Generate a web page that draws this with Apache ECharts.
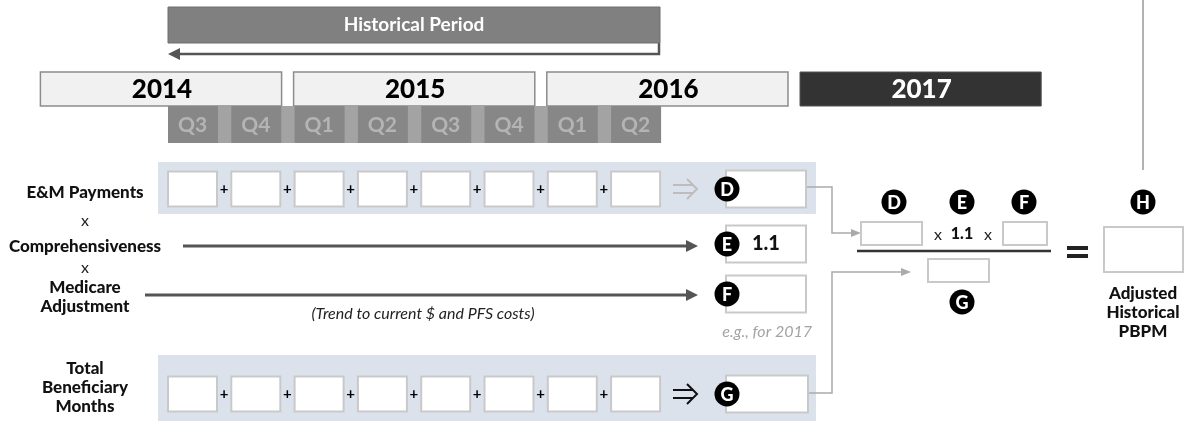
<!DOCTYPE html>
<html>
<head>
<meta charset="utf-8">
<style>
  html, body { margin: 0; padding: 0; background: #fff; }
  #chart { width: 1187px; height: 421px; }
</style>
<script src="https://cdn.jsdelivr.net/npm/echarts@6/dist/echarts.min.js"></script>
</head>
<body>
<div id="chart"></div>
<script>
// timeline
const periodLabel = 'Historical Period';
const years = ['2014', '2015', '2016', '2017'];
const quarters = ['Q3', 'Q4', 'Q1', 'Q2', 'Q3', 'Q4', 'Q1', 'Q2'];

// rows of the calculation
const rowLabels = ['E&M Payments', 'Comprehensiveness', 'Medicare\nAdjustment', 'Total\nBeneficiary\nMonths'];
const rowLetters = ['D', 'E', 'F', 'G'];
const rowValues = ['', '1.1', '', ''];
const sumRows = [0, 3]; // rows that add up the quarters
const factorRows = [1, 2]; // rows that are a single factor
const trendNote = '(Trend to current $ and PFS costs)';
const exampleNote = 'e.g., for 2017';

// formula
const numeratorLetters = ['D', 'E', 'F'];
const comprehensiveness = '1.1';
const denominatorLetter = 'G';
const resultLetter = 'H';
const resultLabel = 'Adjusted\nHistorical\nPBPM';

// layout (pixels of the hidden axes)
const L = {
  q0: 168, qStep: 63.3, qW: 49,
  periodTop: 7, periodBottom: 43, periodLine: 54, periodRight: 660,
  yearTop: 72, yearBottom: 106,
  qTop: 106, qBottom: 143,
  labelX: 85, labelY: [193, 247, 297, 388],
  rowY: [189, 244, 294, 394],
  band: [158, 816], bandY: { 0: [162, 214], 3: [355, 421] },
  boxH: 35,
  arrowStart: { 1: 183, 2: 145 },
  resX: [726, 806], resH: 37, circleX: 727, r: 12.5,
};
const FONT = 'Lato';
const BOX = { fill: '#fff', stroke: '#c9c9c9', lineWidth: 2 };

const qx = q => L.q0 + q * L.qStep;

function rect(api, x0, y0, x1, y1, style) {
  const a = api.coord([x0, y0]);
  const b = api.coord([x1, y1]);
  return { type: 'rect', shape: { x: a[0], y: a[1], width: b[0] - a[0], height: b[1] - a[1] }, style };
}
function text(api, x, y, str, font, fill, align, extra) {
  const p = api.coord([x, y]);
  return {
    type: 'text', x: p[0], y: p[1],
    style: Object.assign({ text: str, font, fill, align: align || 'center', verticalAlign: 'middle' }, extra || {}),
  };
}
function line(api, pts, stroke, lineWidth) {
  return { type: 'polyline', shape: { points: pts.map(p => api.coord(p)) }, style: { stroke, lineWidth, fill: null } };
}
function tri(api, pts, fill) {
  return { type: 'polygon', shape: { points: pts.map(p => api.coord(p)) }, style: { fill } };
}
function badge(api, x, y, letter) {
  const p = api.coord([x, y]);
  return {
    type: 'group', children: [
      { type: 'circle', shape: { cx: p[0], cy: p[1], r: L.r }, style: { fill: '#000' } },
      { type: 'text', x: p[0], y: p[1] + 1, style: { text: letter, font: `900 18px ${FONT}`, fill: '#fff', align: 'center', verticalAlign: 'middle' } },
    ],
  };
}
function dblArrow(api, x, y, color) {
  return {
    type: 'group', children: [
      line(api, [[x, y - 4], [x + 20, y - 4]], color, 2),
      line(api, [[x, y + 4], [x + 20, y + 4]], color, 2),
      line(api, [[x + 14, y - 10], [x + 24, y], [x + 14, y + 10]], color, 2),
    ],
  };
}

function custom(name, data, renderItem) {
  return { type: 'custom', name, data, renderItem, silent: true, animation: false, clip: false };
}

const series = [
  // historical period banner
  custom('period', [[0, 0]], (params, api) => ({
    type: 'group', children: [
      line(api, [[L.periodRight - 1, L.periodBottom], [L.periodRight - 1, L.periodLine], [L.q0 + 10, L.periodLine]], '#555', 2.5),
      tri(api, [[L.q0, L.periodLine], [L.q0 + 12, L.periodLine - 6], [L.q0 + 12, L.periodLine + 6]], '#555'),
      rect(api, L.q0, L.periodTop, L.periodRight, L.periodBottom, { fill: '#808080', stroke: '#6e6e6e', lineWidth: 1 }),
      text(api, (L.q0 + L.periodRight) / 2, (L.periodTop + L.periodBottom) / 2, periodLabel, `bold 19px ${FONT}`, '#fff'),
    ],
  })),
  // year bars
  custom('years', years.map((y, i) => [i, 0]), (params, api) => {
    const i = params.dataIndex;
    const x0 = qx(4 * i - 2) - 1;
    const x1 = qx(4 * i + 2) - 13;
    const last = i === years.length - 1;
    return {
      type: 'group', children: [
        rect(api, x0, L.yearTop, x1, L.yearBottom, last
          ? { fill: '#333', stroke: '#555', lineWidth: 1 }
          : { fill: '#f1f1f1', stroke: '#8c8c8c', lineWidth: 1.5 }),
        text(api, (x0 + x1) / 2 + 1, (L.yearTop + L.yearBottom) / 2 + 1, years[i], `900 26px ${FONT}`, last ? '#fff' : '#000'),
      ],
    };
  }),
  // quarter strip
  custom('quarterStrip', [[0, 0]], (params, api) =>
    rect(api, L.q0, L.qTop, L.periodRight, L.qBottom, { fill: '#a3a3a3' })),
  custom('quarters', quarters.map((q, i) => [i, 0]), (params, api) => {
    const i = params.dataIndex;
    const x0 = qx(i);
    return {
      type: 'group', children: [
        rect(api, x0, L.qTop, x0 + L.qW + 1, L.qBottom, { fill: '#878787' }),
        text(api, x0 + L.qW / 2, (L.qTop + L.qBottom) / 2 + 1, quarters[i], `bold 21px ${FONT}`, '#b4b4b4'),
      ],
    };
  }),
  // shaded bands for summed rows
  custom('bands', sumRows.map(r => [r, 0]), (params, api) => {
    const r = sumRows[params.dataIndex];
    return rect(api, L.band[0], L.bandY[r][0], L.band[1], L.bandY[r][1], { fill: '#dce2ec' });
  }),
  // quarterly input boxes with plus signs
  custom('inputs', sumRows.flatMap(r => quarters.map((q, i) => [i, r])), (params, api) => {
    const k = params.dataIndex;
    const r = sumRows[Math.floor(k / quarters.length)];
    const i = k % quarters.length;
    const y = L.rowY[r];
    const x0 = qx(i);
    const kids = [rect(api, x0, y - L.boxH / 2, x0 + L.qW, y + L.boxH / 2, BOX)];
    if (i < quarters.length - 1) {
      kids.push(text(api, x0 + L.qW + 7, y, '+', `bold 15px ${FONT}`, '#000'));
    }
    return { type: 'group', children: kids };
  }),
  // sum arrows
  custom('sumArrows', sumRows.map(r => [r, 0]), (params, api) => {
    const r = sumRows[params.dataIndex];
    return dblArrow(api, 673, L.rowY[r], r === 0 ? '#bdbdbd' : '#111');
  }),
  // factor arrows
  custom('factorArrows', factorRows.map(r => [r, 0]), (params, api) => {
    const r = factorRows[params.dataIndex];
    const y = L.rowY[r] + (r === 1 ? 2 : 1);
    return {
      type: 'group', children: [
        line(api, [[L.arrowStart[r], y], [688, y]], '#555', 3),
        tri(api, [[698, y], [686, y - 6], [686, y + 6]], '#555'),
      ],
    };
  }),
  // row labels and the x between them
  custom('rowLabels', rowLabels.map((l, i) => [i, 0]), (params, api) => {
    const i = params.dataIndex;
    const kids = [text(api, L.labelX, L.labelY[i], rowLabels[i], `900 17px ${FONT}`, '#111', 'center', { lineHeight: 19 })];
    if (i === 0 || i === 1) {
      kids.push(text(api, L.labelX, (L.labelY[i] + L.labelY[i + 1] - (i === 1 ? 10 : 0)) / 2 + 1, 'x', `16px ${FONT}`, '#222'));
    }
    return { type: 'group', children: kids };
  }),
  // result boxes D E F G
  custom('results', rowLetters.map((l, i) => [i, 0]), (params, api) => {
    const i = params.dataIndex;
    const y = L.rowY[i];
    const kids = [
      rect(api, L.resX[0], y - L.resH / 2, L.resX[1] + (i === 3 ? 2 : 0), y + L.resH / 2, BOX),
      badge(api, L.circleX, y, rowLetters[i]),
    ];
    if (rowValues[i]) kids.push(text(api, 752, y, rowValues[i], `900 20px ${FONT}`, '#111', 'left'));
    return { type: 'group', children: kids };
  }),
  // notes
  custom('notes', [[0, 0]], (params, api) => ({
    type: 'group', children: [
      text(api, 423, 314, trendNote, `italic 16px ${FONT}`, '#222'),
      text(api, 812, 332, exampleNote, `italic 16px ${FONT}`, '#a3a3a3', 'right'),
    ],
  })),
  // formula
  custom('formula', [[0, 0]], (params, api) => {
    const gray = '#aaa';
    const topX = [894, 962, 1024];
    const kids = [
      line(api, [[807, 187], [832, 187], [832, 233], [852, 233]], gray, 1.5),
      tri(api, [[861, 233], [851, 229], [851, 237]], gray),
      line(api, [[809, 393], [832, 393], [832, 272], [902, 272]], gray, 1.5),
      tri(api, [[911, 272], [901, 268], [901, 276]], gray),
      rect(api, 861, 222, 922, 245, BOX),
      rect(api, 1003, 222, 1047, 245, BOX),
      text(api, 938, 235, 'x', `16px ${FONT}`, '#222'),
      text(api, 962, 234, comprehensiveness, `900 16px ${FONT}`, '#111'),
      text(api, 988, 235, 'x', `16px ${FONT}`, '#222'),
      line(api, [[857, 251], [1051, 251]], '#333', 2.5),
      rect(api, 928, 259, 989, 282, BOX),
      badge(api, 962, 302, denominatorLetter),
      rect(api, 1067, 246, 1088, 250, { fill: '#222' }),
      rect(api, 1067, 254, 1088, 258, { fill: '#222' }),
      rect(api, 1104, 227, 1183, 272, BOX),
      badge(api, 1143, 202, resultLetter),
      text(api, 1143, 313, resultLabel, `900 17px ${FONT}`, '#111', 'center', { lineHeight: 19 }),
      line(api, [[1143, 0], [1143, 170]], '#999', 1.5),
    ];
    numeratorLetters.forEach((l, i) => kids.push(badge(api, topX[i], 202, l)));
    return { type: 'group', children: kids };
  }),
];

const chart = echarts.init(document.getElementById('chart'));
chart.setOption({
  backgroundColor: '#fff',
  animation: false,
  grid: { left: 0, right: 0, top: 0, bottom: 0 },
  xAxis: { type: 'value', min: 0, max: 1187, show: false },
  yAxis: { type: 'value', min: 0, max: 421, inverse: true, show: false },
  series,
});
</script>
</body>
</html>
